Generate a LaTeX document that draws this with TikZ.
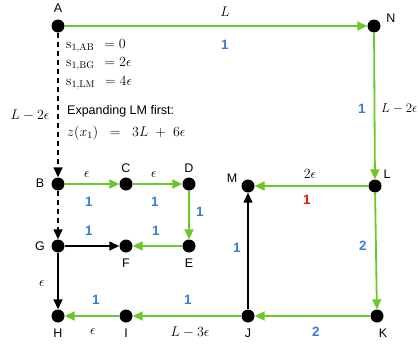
\documentclass[tikz,border=0pt]{standalone}
\usepackage{fix-cm}
\usepackage{fontspec}
\newfontfamily\arialfont{Liberation Sans}
\usetikzlibrary{arrows.meta}
\definecolor{gr}{RGB}{108,200,40}
\definecolor{bl}{RGB}{58,124,216}
\definecolor{rd}{RGB}{230,20,20}
\begin{document}
\begin{tikzpicture}[x=1pt,y=-1pt,
 dot/.style={circle,fill=black,inner sep=0pt,minimum size=13pt},
 lbl/.style={font=\arialfont\fontsize{12.5}{14}\selectfont,inner sep=0pt},
 num/.style={font=\arialfont\fontsize{13.5}{15}\selectfont\bfseries,text=bl,inner sep=0pt},
 rnum/.style={num,text=rd},
 ml/.style={font=\fontsize{14}{16}\selectfont,inner sep=0pt},
 ge/.style={draw=gr,line width=1.8pt,-{Triangle[length=10pt,width=9pt]}},
 be/.style={draw=black,line width=1.5pt,-{Triangle[length=10pt,width=9pt]}},
 de/.style={be,dash pattern=on 5pt off 4pt}]
\useasboundingbox[fill=white] (0,0) rectangle (418,343);
% nodes
\node[dot] (A) at (58,26) {};
\node[dot] (N) at (374,26) {};
\node[dot] (L) at (375,186) {};
\node[dot] (M) at (248,186) {};
\node[dot] (K) at (377,316) {};
\node[dot] (J) at (248,316) {};
\node[dot] (I) at (126,316) {};
\node[dot] (H) at (58,316) {};
\node[dot] (B) at (58,184) {};
\node[dot] (C) at (126,184) {};
\node[dot] (D) at (189,184) {};
\node[dot] (E) at (189,246) {};
\node[dot] (F) at (126,246) {};
\node[dot] (G) at (58,246) {};
% node labels
\node[lbl] (lA) at (58,8) {A};
\node[lbl] (lN) at (391,18) {N};
\node[lbl] (lL) at (387,174) {L};
\node[lbl] (lM) at (232,178) {M};
\node[lbl] (lK) at (383,333) {K};
\node[lbl] (lJ) at (248,333) {J};
\node[lbl] (lI) at (126,333) {I};
\node[lbl] (lH) at (58,333) {H};
\node[lbl] (lB) at (40,183) {B};
\node[lbl] (lC) at (126,168) {C};
\node[lbl] (lD) at (189,168) {D};
\node[lbl] (lE) at (189,263) {E};
\node[lbl] (lF) at (126,263) {F};
\node[lbl] (lG) at (40,246) {G};
% edges
\draw[ge] (A) -- (N);
\draw[ge] (N) -- (L);
\draw[ge] (L) -- (M);
\draw[ge] (L) -- (K);
\draw[ge] (K) -- (J);
\draw[ge] (J) -- (I);
\draw[ge] (I) -- (H);
\draw[ge] (B) -- (C);
\draw[ge] (C) -- (D);
\draw[ge] (D) -- (E);
\draw[ge] (E) -- (F);
\draw[be] (G) -- (F);
\draw[be] (G) -- (H);
\draw[be] (J) -- (M);
\draw[de] (A) -- (B);
\draw[de] (B) -- (G);
% edge labels
\node[ml] (eAN) at (225,12) {$L$};
\node[num] (nAN) at (225,45) {1};
\node[ml] (eAB) at (30,115) {$L-2\epsilon$};
\node[num] (nNL) at (362,109) {1};
\node[ml,anchor=west,font=\fontsize{13}{15}\selectfont] (eNL) at (381,109) {$L-2\epsilon$};
\node[ml] (eBC) at (87,174) {$\epsilon$};
\node[num] (nBC) at (89,202) {1};
\node[ml] (eCD) at (154,174) {$\epsilon$};
\node[num] (nCD) at (155,202) {1};
\node[num] (nDE) at (200,212) {1};
\node[num] (nGF) at (89,231) {1};
\node[num] (nEF) at (156,231) {1};
\node[ml] (eGH) at (42,283) {$\epsilon$};
\node[num] (nHI) at (96,300) {1};
\node[ml] (eHI) at (93,331) {$\epsilon$};
\node[num] (nIJ) at (188,300) {1};
\node[ml] (eIJ) at (190,332) {$L-3\epsilon$};
\node[num] (nJM) at (237,248) {1};
\node[ml] (eLM) at (310,174) {$2\epsilon$};
\node[rnum] (nLM) at (307,200) {1};
\node[num] (nLK) at (363,246) {2};
\node[num] (nKJ) at (316,332) {2};
% text block
\node[ml,anchor=west] (t1) at (66,46) {$\mathrm{s}_{1,\mathrm{AB}}\;\,= 0$};
\node[ml,anchor=west] (t2) at (66,64) {$\mathrm{s}_{1,\mathrm{BG}}\;\,= 2\epsilon$};
\node[ml,anchor=west] (t3) at (66,83) {$\mathrm{s}_{1,\mathrm{LM}}\;\,= 4\epsilon$};
\node[lbl,anchor=west] (t4) at (67,111) {Expanding LM first:};
\node[ml,anchor=west] (t5) at (67,133) {$z(x_1)\;\;=\;\;3L\;+\;6\epsilon$};
\end{tikzpicture}
\end{document}
